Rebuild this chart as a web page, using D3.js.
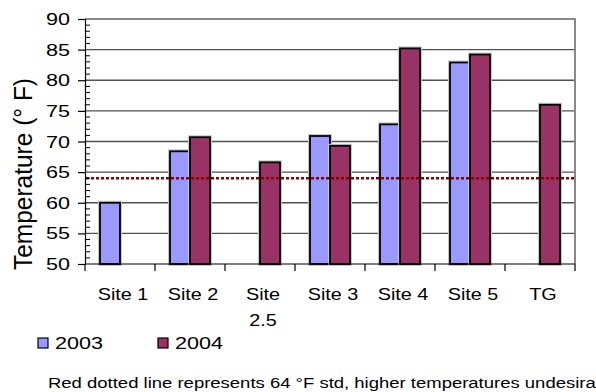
<!DOCTYPE html>
<html>
<head>
<meta charset="utf-8">
<script src="https://cdn.jsdelivr.net/npm/d3@7"></script>
<style>
  html, body { margin: 0; padding: 0; background: #fff; overflow: hidden; }
  svg { display: block; font-family: "Liberation Sans", Arial, sans-serif; }
</style>
</head>
<body>
<svg id="chart" width="596" height="392"></svg>
<script>
// Water temperature by site, two survey years
const categories = ["Site 1", "Site 2", "Site 2.5", "Site 3", "Site 4", "Site 5", "TG"];
const categoryLines = [["Site 1"], ["Site 2"], ["Site", "2.5"], ["Site 3"], ["Site 4"], ["Site 5"], ["TG"]];
const seriesNames = ["2003", "2004"];
const values2003 = [60.0, 68.4, null, 70.9, 72.8, 82.9, null];
const values2004 = [null, 70.7, 66.6, 69.3, 85.2, 84.2, 76.0];
const yTicks = [50, 55, 60, 65, 70, 75, 80, 85, 90];
const standardTemp = 64;
const yLabel = "Temperature (\u00B0 F)";
const footnote = "Red dotted line represents 64 \u00B0F std, higher temperatures undesirable";

const colors = { "2003": "#9999ff", "2004": "#993366" };
const seriesValues = { "2003": values2003, "2004": values2004 };

const svg = d3.select("#chart");
const plot = { left: 85, right: 575, top: 19, bottom: 264 };

const x = d3.scaleBand().domain(categories).range([plot.left, plot.right]).paddingInner(0).paddingOuter(0);
const xs = d3.scaleBand().domain(seriesNames).range([0, x.bandwidth()]).paddingInner(0).paddingOuter(0.75);
const y = d3.scaleLinear().domain([50, 90]).range([plot.bottom, plot.top]);

// widen glyphs horizontally to the chart's lettering proportions
function stretch(sel, k) {
  sel.each(function () {
    const w = this.getComputedTextLength();
    d3.select(this).attr("textLength", w * k).attr("lengthAdjust", "spacingAndGlyphs");
  });
}

// gridlines
svg.append("g")
  .selectAll("line")
  .data(yTicks.slice(1, -1))
  .join("line")
  .attr("x1", plot.left).attr("x2", plot.right)
  .attr("y1", d => y(d)).attr("y2", d => y(d))
  .attr("stroke", "#505050").attr("stroke-width", 1.3);

// plot frame top/right
svg.append("path")
  .attr("d", `M${plot.left},${y(90)}H${plot.right}V${plot.bottom}`)
  .attr("fill", "none").attr("stroke", "#888").attr("stroke-width", 2);

// bars
const rows = categories.map((c, i) => ({ c, i }));
seriesNames.forEach(s => {
  const data = rows.filter(r => seriesValues[s][r.i] != null)
    .map(r => ({ c: r.c, v: seriesValues[s][r.i] }));
  const g = svg.append("g");
  // soft halo round each bar
  g.selectAll("rect.halo").data(data).join("rect")
    .attr("class", "halo")
    .attr("x", d => x(d.c) + xs(s))
    .attr("y", d => y(d.v))
    .attr("width", xs.bandwidth())
    .attr("height", d => y(50) - y(d.v))
    .attr("fill", "none").attr("stroke", "#c8c8c8").attr("stroke-width", 4);
  g.selectAll("rect.bar").data(data).join("rect")
    .attr("class", "bar")
    .attr("x", d => x(d.c) + xs(s))
    .attr("y", d => y(d.v))
    .attr("width", xs.bandwidth())
    .attr("height", d => y(50) - y(d.v))
    .attr("fill", colors[s]).attr("stroke", "#000").attr("stroke-width", 1.8);
});

// standard temperature reference line
svg.append("line")
  .attr("x1", plot.left + 1).attr("x2", plot.right)
  .attr("y1", y(standardTemp)).attr("y2", y(standardTemp))
  .attr("stroke", "#8b0000").attr("stroke-width", 2.4)
  .attr("stroke-dasharray", "3,2");

// y axis: major ticks outward, minor ticks inward
const yAxis = svg.append("g").attr("transform", `translate(${plot.left},0)`)
  .call(d3.axisLeft(y).tickValues(yTicks).tickSize(7).tickFormat(""));
yAxis.select(".domain").attr("stroke", "#000").attr("stroke-width", 1.2);
yAxis.selectAll(".tick line").attr("stroke", "#000").attr("stroke-width", 1.2);
const minor = d3.range(50, 91).filter(v => v % 5 !== 0);
svg.append("g").selectAll("line").data(minor).join("line")
  .attr("x1", plot.left).attr("x2", plot.left + 5)
  .attr("y1", d => y(d)).attr("y2", d => y(d))
  .attr("stroke", "#000").attr("stroke-width", 1);

const yLabels = svg.append("g").selectAll("text").data(yTicks).join("text")
  .attr("x", 70).attr("y", d => y(d) + 6)
  .attr("text-anchor", "end")
  .attr("font-size", 17).attr("fill", "#000")
  .text(d => d);
stretch(yLabels, 1.27);

// x axis with ticks on category boundaries
const bounds = categories.map(c => x(c)).concat([plot.right]);
svg.append("line")
  .attr("x1", plot.left).attr("x2", plot.right)
  .attr("y1", plot.bottom).attr("y2", plot.bottom)
  .attr("stroke", "#000").attr("stroke-width", 1.2);
svg.append("g").selectAll("line").data(bounds).join("line")
  .attr("x1", d => d).attr("x2", d => d)
  .attr("y1", plot.bottom).attr("y2", plot.bottom + 7)
  .attr("stroke", "#000").attr("stroke-width", 1.2);

const xLabels = svg.append("g").selectAll("text").data(categories).join("text")
  .attr("text-anchor", "middle").attr("font-size", 16.5).attr("fill", "#000");
xLabels.each(function (c, i) {
  const lines = categoryLines[i];
  d3.select(this).selectAll("tspan").data(lines).join("tspan")
    .attr("x", x(c) + x.bandwidth() / 2 + 3)
    .attr("y", (d, j) => 300 + j * 26)
    .text(d => d);
});
xLabels.selectAll("tspan").each(function () {
  const w = this.getComputedTextLength();
  d3.select(this).attr("textLength", w * 1.2).attr("lengthAdjust", "spacingAndGlyphs");
});

// axis title
svg.append("text")
  .attr("transform", "translate(32,174) scale(1.25,1) rotate(-90)")
  .attr("text-anchor", "middle")
  .attr("font-size", 20).attr("fill", "#000")
  .attr("textLength", 192).attr("lengthAdjust", "spacingAndGlyphs")
  .text(yLabel);

// legend
const legendX = [38, 158];
const legend = svg.append("g").selectAll("g").data(seriesNames).join("g")
  .attr("transform", (d, i) => `translate(${legendX[i]},338)`);
legend.append("rect")
  .attr("width", 10).attr("height", 10)
  .attr("fill", d => colors[d]).attr("stroke", "#000").attr("stroke-width", 1.2);
const legendText = legend.append("text")
  .attr("x", 17).attr("y", 11)
  .attr("font-size", 17).attr("fill", "#000")
  .text(d => d);
stretch(legendText, 1.27);

// footnote
const foot = svg.append("text")
  .attr("x", 48).attr("y", 388)
  .attr("font-size", 14).attr("fill", "#000")
  .text(footnote);
stretch(foot, 1.32);
</script>
</body>
</html>
